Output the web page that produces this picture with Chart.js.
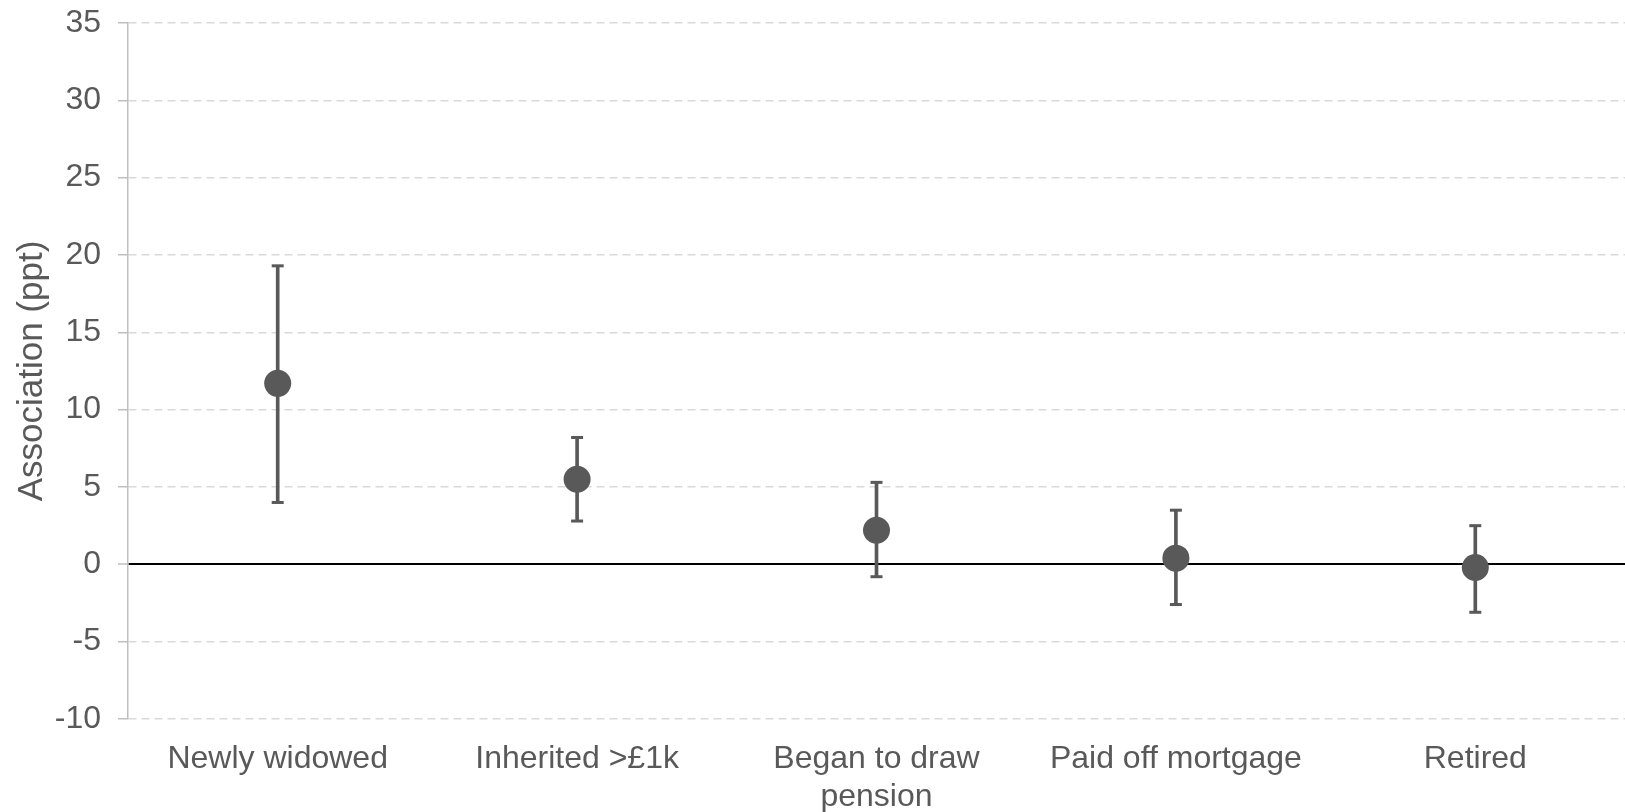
<!DOCTYPE html>
<html>
<head>
<meta charset="utf-8">
<script src="https://cdn.jsdelivr.net/npm/chart.js@4"></script>
<style>
  html, body { margin: 0; padding: 0; background: #ffffff; }
  #wrap { width: 1625px; height: 812px; }
</style>
</head>
<body>
<div id="wrap"><canvas id="chart" width="1625" height="812"></canvas></div>
<script>
// Life events and their estimated association (percentage points) with 95% intervals
const categories = ['Newly widowed', 'Inherited >£1k', ['Began to draw', 'pension'], 'Paid off mortgage', 'Retired'];
const estimates = [11.7, 5.5, 2.2, 0.4, -0.2];
const lowerBounds = [4.0, 2.8, -0.8, -2.6, -3.1];
const upperBounds = [19.3, 8.2, 5.3, 3.5, 2.5];
const yTicks = [35, 30, 25, 20, 15, 10, 5, 0, -5, -10];

const markColor = '#595959';
const textColor = '#595959';
const fontFamily = '"Liberation Sans", Arial, Helvetica, sans-serif';

new Chart(document.getElementById('chart'), {
  type: 'bar',
  data: {
    labels: categories,
    datasets: [
      {
        // point estimates
        type: 'line',
        data: estimates,
        showLine: false,
        pointRadius: 13.5,
        pointBackgroundColor: markColor,
        pointBorderWidth: 0,
        order: 0
      },
      {
        // interval whiskers
        type: 'bar',
        data: lowerBounds.map((lo, i) => [lo, upperBounds[i]]),
        backgroundColor: markColor,
        borderWidth: 0,
        barThickness: 3,
        order: 2
      },
      {
        // upper caps
        type: 'line',
        data: upperBounds,
        showLine: false,
        pointStyle: 'line',
        pointRadius: 6,
        pointBorderWidth: 3,
        pointBorderColor: markColor,
        order: 1
      },
      {
        // lower caps
        type: 'line',
        data: lowerBounds,
        showLine: false,
        pointStyle: 'line',
        pointRadius: 6,
        pointBorderWidth: 3,
        pointBorderColor: markColor,
        order: 1
      }
    ]
  },
  options: {
    responsive: false,
    devicePixelRatio: 1,
    animation: false,
    layout: { autoPadding: false, padding: { top: 23, right: 0, bottom: 0, left: 0 } },
    plugins: {
      legend: { display: false },
      tooltip: { enabled: false }
    },
    scales: {
      x: {
        offset: true,
        grid: { display: false, drawTicks: false },
        border: { display: false },
        ticks: {
          color: textColor,
          padding: 21,
          maxRotation: 0,
          autoSkip: false,
          font: { family: fontFamily, size: 32 }
        },
        afterFit: (scale) => { scale.height = 93; }
      },
      y: {
        min: -10,
        max: 35,
        afterBuildTicks: (scale) => {
          scale.ticks = yTicks.map(v => ({ value: v }));
        },
        afterFit: (scale) => {
          scale.width = 128;
          scale.paddingTop = 0;
          scale.paddingBottom = 0;
        },
        grid: {
          color: (ctx) => (ctx.tick && ctx.tick.value === 0) ? '#000000' : '#d9d9d9',
          lineWidth: (ctx) => (ctx.tick && ctx.tick.value === 0) ? 2 : 1.5,
          tickColor: '#bfbfbf',
          tickLength: 10,
          tickWidth: 1.5,
          tickBorderDash: []
        },
        border: {
          display: true,
          color: '#bfbfbf',
          width: 1.5,
          dash: (ctx) => (ctx.tick && ctx.tick.value === 0) ? [] : [8, 5]
        },
        ticks: {
          color: textColor,
          padding: 17,
          font: { family: fontFamily, size: 32 }
        },
        title: {
          display: true,
          text: 'Association (ppt)',
          color: textColor,
          padding: { top: 11, bottom: 0 },
          font: { family: fontFamily, size: 35 }
        }
      }
    }
  }
});
</script>
</body>
</html>
